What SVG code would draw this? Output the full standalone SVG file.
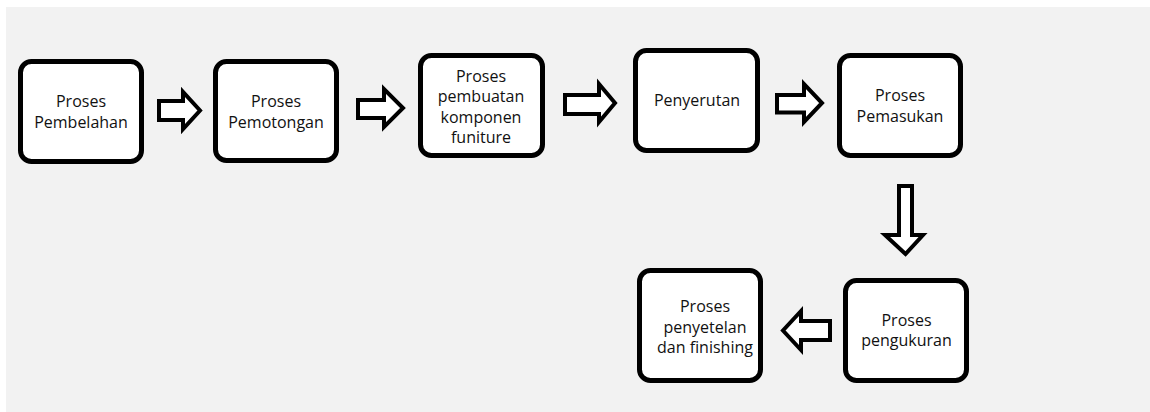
<svg xmlns="http://www.w3.org/2000/svg" width="1150" height="412" viewBox="0 0 1150 412">
<style>
.box{fill:#ffffff;stroke:#000000;stroke-width:5}
.arr{fill:#ffffff;stroke:#000000;stroke-width:4;stroke-linejoin:miter}
text{font-family:"Open Sans","Liberation Sans",sans-serif;font-size:16px;fill:#111111;text-anchor:middle}
</style>
<rect x="0" y="0" width="1150" height="412" fill="#ffffff"/>
<rect x="6" y="7" width="1144" height="405" fill="#f2f2f2"/>
<g id="connectors">
<polygon class="arr" points="159,101 183,101 183,92 200,110.5 183,129 183,120 159,120"/>
<polygon class="arr" points="358,100 384,100 384,89 403,108 384,127 384,118 358,118"/>
<polygon class="arr" points="565,95 599,95 599,84 615,103 599,122 599,114 565,114"/>
<polygon class="arr" points="777,95 804,95 804,84 822,103 804,122 804,112.5 777,112.5"/>
<polygon class="arr" points="899,186 912,186 912,235 923,235 905.5,254 885,235 899,235"/>
<polygon class="arr" points="830,321 801,321 801,311 783,330.5 801,350 801,340 830,340"/>
</g>
<g id="n1"><rect class="box" x="20.5" y="61.5" width="121" height="100" rx="11"/><text x="81" y="107">Proses</text><text x="81" y="127.5">Pembelahan</text></g>
<g id="n2"><rect class="box" x="215.5" y="61.5" width="121" height="99" rx="11"/><text x="276" y="107">Proses</text><text x="276" y="127.5">Pemotongan</text></g>
<g id="n3"><rect class="box" x="420.5" y="55.5" width="122" height="100" rx="11"/><text x="481" y="82">Proses</text><text x="481" y="102">pembuatan</text><text x="481" y="122.5">komponen</text><text x="481" y="143">funiture</text></g>
<g id="n4"><rect class="box" x="635.5" y="50.5" width="122" height="100" rx="11"/><text x="697" y="106">Penyerutan</text></g>
<g id="n5"><rect class="box" x="839.5" y="55.5" width="121" height="100" rx="11"/><text x="900" y="101">Proses</text><text x="900" y="121.5">Pemasukan</text></g>
<g id="n6"><rect class="box" x="845.5" y="280.5" width="121" height="100" rx="11"/><text x="906.5" y="326">Proses</text><text x="906.5" y="346">pengukuran</text></g>
<g id="n7"><rect class="box" x="639.5" y="270.5" width="121" height="110" rx="11"/><text x="705" y="311.5">Proses</text><text x="705" y="332.5">penyetelan</text><text x="705" y="352.5">dan finishing</text></g>
</svg>
